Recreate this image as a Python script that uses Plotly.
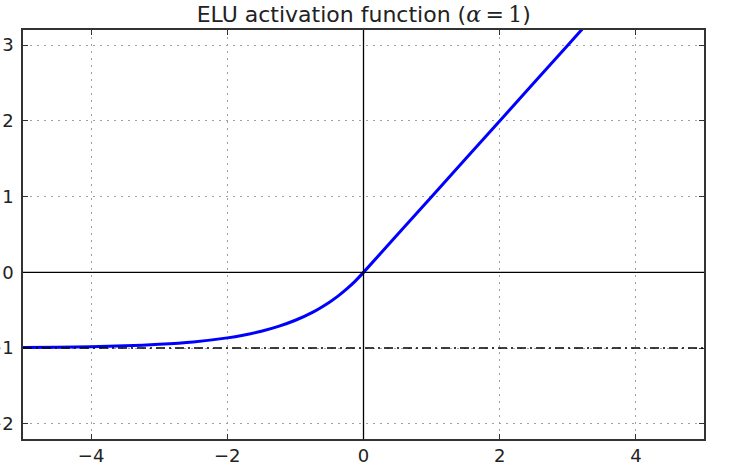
import plotly.graph_objects as go

# Values (ELU curve, alpha = 1)
z_vals = [-5.0, -4.5, -4.0, -3.5, -3.0, -2.5, -2.0, -1.75, -1.5, -1.25, -1.0,
          -0.75, -0.5, -0.375, -0.25, -0.125, 0.0, 1.0, 2.0, 3.0, 4.0, 5.0]
elu_vals = [-0.993, -0.989, -0.982, -0.970, -0.950, -0.918, -0.865, -0.826, -0.777, -0.713, -0.632,
            -0.528, -0.393, -0.313, -0.221, -0.118, 0.0, 1.0, 2.0, 3.0, 4.0, 5.0]
x_ticks = [-4, -2, 0, 2, 4]
y_ticks = [-2, -1, 0, 1, 2, 3]
x_range = [-5, 5]
y_range = [-2.2, 3.2]
alpha_line = -1

fig = go.Figure()
fig.add_trace(go.Scatter(x=z_vals, y=elu_vals, mode="lines",
                         line=dict(color="#0000ff", width=3, shape="spline", smoothing=0.5),
                         showlegend=False, hoverinfo="skip"))

# reference lines
fig.add_shape(type="line", xref="x", yref="y", x0=x_range[0], x1=x_range[1], y0=alpha_line, y1=alpha_line,
              line=dict(color="black", width=1.5, dash="9px,4px,2px,4px"), layer="above")
fig.add_shape(type="line", xref="x", yref="y", x0=x_range[0], x1=x_range[1], y0=0, y1=0,
              line=dict(color="black", width=1.3), layer="above")
fig.add_shape(type="line", xref="x", yref="y", x0=0, x1=0, y0=y_range[0], y1=y_range[1],
              line=dict(color="black", width=1.3), layer="above")

axis_common = dict(
    showline=True, linecolor="#333333", linewidth=1.5, mirror="allticks",
    ticks="inside", ticklen=5, tickwidth=1, tickcolor="#333333",
    showgrid=True, gridcolor="#a0a0a0", gridwidth=1, griddash="2px,5px",
    zeroline=False, automargin=False,
    tickfont=dict(family="DejaVu Sans", size=18, color="#222222"),
)

fig.update_xaxes(range=x_range, tickvals=x_ticks, **axis_common)
fig.update_yaxes(range=y_range, tickvals=y_ticks, ticklabelstandoff=4, **axis_common)

fig.update_layout(
    width=750, height=468,
    margin=dict(l=23, r=46, t=30, b=29),
    paper_bgcolor="white", plot_bgcolor="white",
    title=dict(
        text="ELU activation function (<span style='font-family:DejaVu Serif'><i>α</i>\u2009=\u20091</span>)",
        x=0.485, xanchor="center", y=0.97, yanchor="middle",
        font=dict(family="DejaVu Sans", size=22, color="#222222"),
    ),
)

fig.write_html("out.html")
